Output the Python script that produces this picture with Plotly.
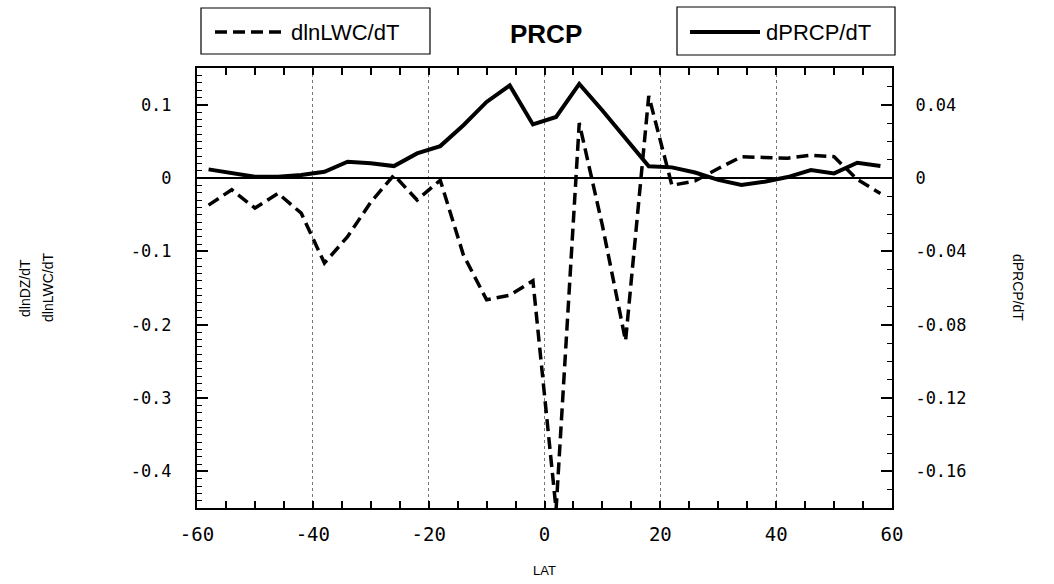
import plotly.graph_objects as go

# Latitude grid (degrees)
lat = [-58, -54, -50, -46, -42, -38, -34, -30, -26, -22, -18, -14, -10, -6, -2,
       2, 6, 10, 14, 18, 22, 26, 30, 34, 38, 42, 46, 50, 54, 58]

# d ln(LWC)/dT  (left axis, dashed)
dlnlwc_dt = [-0.037, -0.016, -0.041, -0.021, -0.048, -0.116, -0.080, -0.033, 0.004, -0.030,
             -0.003, -0.105, -0.166, -0.160, -0.140, -0.452, 0.075, -0.065, -0.222, 0.112,
             -0.010, -0.004, 0.013, 0.029, 0.028, 0.027, 0.031, 0.029, -0.002, -0.021]

# dPRCP/dT  (right axis, solid)
dprcp_dt = [0.0047, 0.0027, 0.0007, 0.0007, 0.0016, 0.0034, 0.0089, 0.0080, 0.0065, 0.0134,
            0.0174, 0.0288, 0.0415, 0.0505, 0.0292, 0.0333, 0.0513, 0.0368, 0.0212, 0.0064,
            0.0058, 0.0030, -0.0010, -0.0038, -0.0020, 0.0005, 0.0043, 0.0025, 0.0083, 0.0065]

x_ticks = [-60, -40, -20, 0, 20, 40, 60]
x_ticktext = ["-60", "-40", "-20", "0", "20", "40", "60"]
left_ticks = [-0.4, -0.3, -0.2, -0.1, 0, 0.1]
left_ticktext = ["-0.4", "-0.3", "-0.2", "-0.1", "0", "0.1"]
right_ticks = [-0.16, -0.12, -0.08, -0.04, 0, 0.04]
right_ticktext = ["-0.16", "-0.12", "-0.08", "-0.04", "0", "0.04"]

W, H = 1054, 584
L, R, T, B = 197, 162, 68, 76
PW, PH = W - L - R, H - T - B


def px(x):
    return (x - L) / PW


def py(y):
    return (H - B - y) / PH


sans = "Liberation Sans, Arial, sans-serif"
mono = "DejaVu Sans Mono, Liberation Mono, monospace"

fig = go.Figure()
fig.add_trace(go.Scatter(
    x=lat, y=dlnlwc_dt, mode="lines", name="dlnLWC/dT", yaxis="y",
    line=dict(color="black", width=3.5, dash="12px,6px"), showlegend=False))
fig.add_trace(go.Scatter(
    x=lat, y=dprcp_dt, mode="lines", name="dPRCP/dT", yaxis="y2",
    line=dict(color="black", width=4), showlegend=False))

shapes = [
    # key boxes
    dict(type="rect", xref="paper", yref="paper", x0=px(201), x1=px(430), y0=py(54), y1=py(8),
         line=dict(color="black", width=1.2)),
    dict(type="rect", xref="paper", yref="paper", x0=px(677), x1=px(895), y0=py(55), y1=py(7),
         line=dict(color="black", width=1.2)),
    # key samples
    dict(type="line", xref="paper", yref="paper", x0=px(215), x1=px(285), y0=py(32), y1=py(32),
         line=dict(color="black", width=3.5, dash="12px,6px")),
    dict(type="line", xref="paper", yref="paper", x0=px(690), x1=px(760), y0=py(32), y1=py(32),
         line=dict(color="black", width=4)),
]

annotations = [
    dict(text="dlnLWC/dT", xref="paper", yref="paper", x=px(289), y=py(32),
         xanchor="left", yanchor="middle", showarrow=False,
         font=dict(family=sans, size=22, color="black")),
    dict(text="dPRCP/dT", xref="paper", yref="paper", x=px(764), y=py(32),
         xanchor="left", yanchor="middle", showarrow=False,
         font=dict(family=sans, size=22, color="black")),
    dict(text="<b>PRCP</b>", xref="paper", yref="paper", x=px(546), y=py(34),
         xanchor="center", yanchor="middle", showarrow=False,
         font=dict(family=sans, size=26, color="black")),
    dict(text="dlnDZ/dT", xref="paper", yref="paper", x=px(25), y=0.5,
         xanchor="center", yanchor="middle", showarrow=False, textangle=-90,
         font=dict(family=sans, size=14, color="black")),
    dict(text="dlnLWC/dT", xref="paper", yref="paper", x=px(48), y=0.5,
         xanchor="center", yanchor="middle", showarrow=False, textangle=-90,
         font=dict(family=sans, size=14, color="black")),
    dict(text="dPRCP/dT", xref="paper", yref="paper", x=px(1018), y=0.5,
         xanchor="center", yanchor="middle", showarrow=False, textangle=90,
         font=dict(family=sans, size=14, color="black")),
]

fig.update_layout(
    width=W, height=H,
    margin=dict(l=L, r=R, t=T, b=B, autoexpand=False),
    paper_bgcolor="white", plot_bgcolor="white",
    shapes=shapes, annotations=annotations,
    xaxis=dict(
        range=[-60, 60], tickvals=x_ticks, ticktext=x_ticktext,
        showline=True, linecolor="black", linewidth=2, mirror="allticks",
        ticks="inside", ticklen=7, tickcolor="black", tickwidth=1.5,
        minor=dict(dtick=5, ticks="inside", ticklen=5, tickcolor="black", tickwidth=1.5,
                   showgrid=False),
        showgrid=True, gridcolor="#777777", griddash="dot", gridwidth=1,
        zeroline=False,
        tickfont=dict(family=mono, size=19, color="black"),
        ticklabelstandoff=8,
        title=dict(text="LAT", font=dict(family=sans, size=13, color="black"), standoff=22),
    ),
    yaxis=dict(
        range=[-0.45, 0.15], tickvals=left_ticks, ticktext=left_ticktext,
        showline=True, linecolor="black", linewidth=2,
        ticks="inside", ticklen=11, tickcolor="black", tickwidth=1.5,
        minor=dict(dtick=0.01, ticks="inside", ticklen=5, tickcolor="black", tickwidth=1.2,
                   showgrid=False),
        showgrid=False,
        zeroline=True, zerolinecolor="black", zerolinewidth=1.5,
        tickfont=dict(family=mono, size=17, color="black"),
        ticklabelstandoff=20,
    ),
    yaxis2=dict(
        range=[-0.18, 0.06], tickvals=right_ticks, ticktext=right_ticktext,
        overlaying="y", side="right",
        showline=True, linecolor="black", linewidth=2,
        ticks="inside", ticklen=11, tickcolor="black", tickwidth=1.5,
        minor=dict(dtick=0.01, ticks="inside", ticklen=5, tickcolor="black", tickwidth=1.2,
                   showgrid=False),
        showgrid=False, zeroline=False,
        tickfont=dict(family=mono, size=17, color="black"),
        ticklabelstandoff=18,
    ),
)

fig.write_html("out.html")
